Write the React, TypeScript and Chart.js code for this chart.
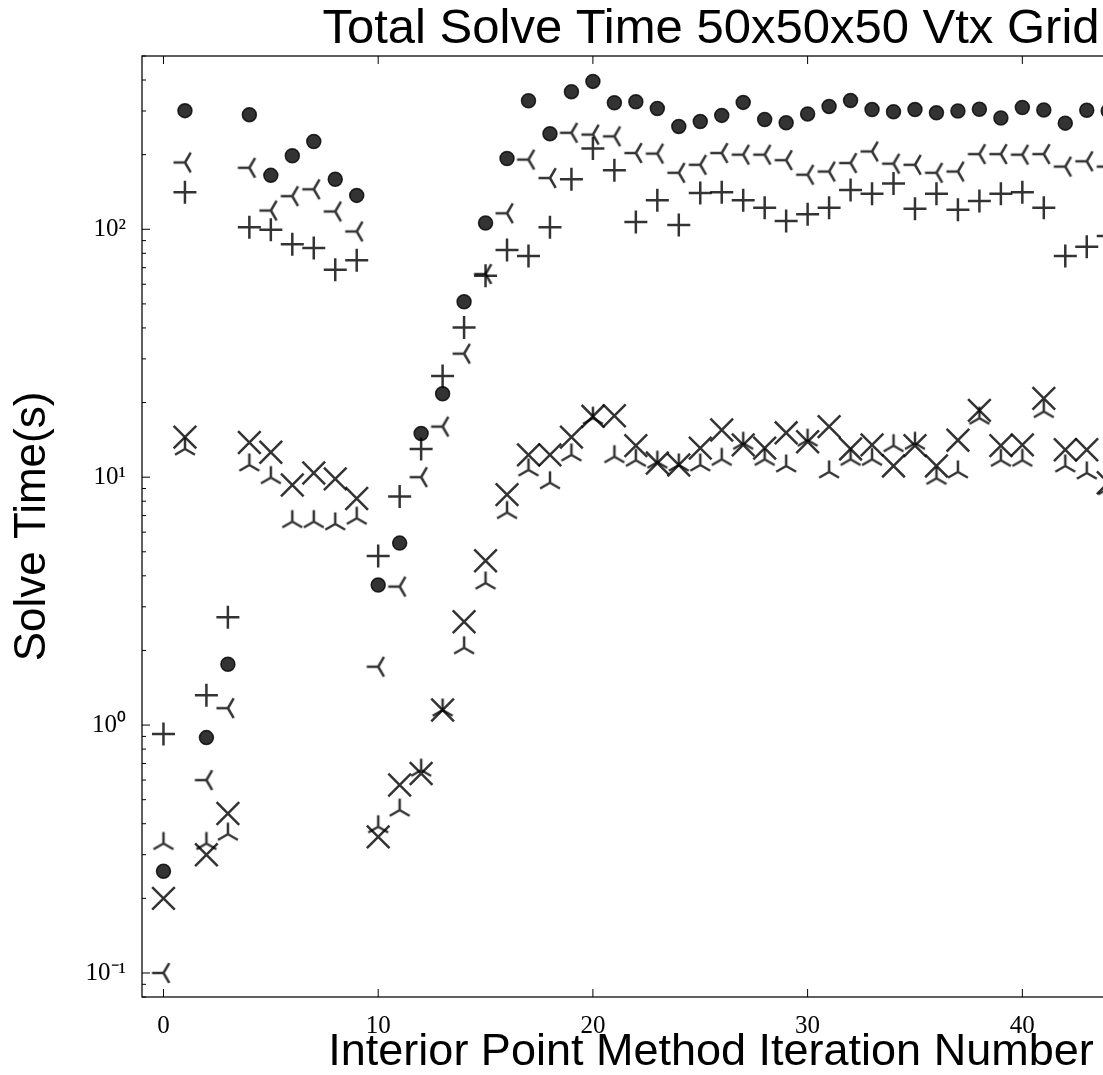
import { useEffect, useRef } from 'react';
import { Chart, registerables } from 'chart.js';

Chart.register(...registerables);

// ---- data ----
const iterations = [
  0, 1, 2, 3, 4, 5, 6, 7, 8, 9, 10, 11, 12, 13, 14, 15, 16, 17, 18, 19, 20, 21,
  22, 23, 24, 25, 26, 27, 28, 29, 30, 31, 32, 33, 34, 35, 36, 37, 38, 39, 40, 41,
  42, 43, 44,
];

const circleTimes = [
  0.257, 301, 0.89, 1.76, 290, 165, 198, 226, 159, 137, 3.67, 5.42, 15.0, 21.7,
  51, 106, 193, 330, 243, 359, 395, 324, 327, 307, 260, 272, 288, 325, 277, 269,
  292, 313, 331, 304, 298, 304, 295, 300, 305, 281, 310, 303, 268, 302, 300,
];

const plusTimes = [
  0.92, 141, 1.32, 2.72, 102, 99.6, 87, 84, 68.7, 75, 4.81, 8.35, 13.0, 25.6,
  40.2, 65, 82.5, 78, 102, 159, 212, 173, 107, 131, 104, 140, 141, 131, 122, 108,
  115, 122, 144, 139, 153, 121, 139, 120, 130, 139, 141, 122, 78, 85, 94,
];

const triLeftTimes = [
  0.1, 186, 0.6, 1.17, 177, 119, 136, 145, 118, 98, 1.72, 3.62, 10.0, 16.0, 31.5,
  66, 116, 191, 161, 245, 241, 237, 203, 202, 169, 182, 203, 200, 200, 190, 166,
  171, 185, 206, 184, 182, 169, 171, 201, 201, 200, 201, 179, 188, 179,
];

const crossTimes = [
  0.2, 14.5, 0.3, 0.44, 13.8, 12.6, 9.3, 10.4, 9.84, 8.2, 0.354, 0.573, 0.638,
  1.15, 2.61, 4.6, 8.5, 12.3, 12.3, 14.5, 17.6, 17.7, 13.4, 11.4, 11.2, 13.1,
  15.5, 13.5, 13.1, 15.1, 13.9, 16.0, 13.0, 13.5, 11.1, 13.4, 11.1, 14.1, 18.6,
  13.4, 13.5, 20.8, 12.9, 12.9, 9.5,
];

const triUpTimes = [
  0.333, 13.0, 0.333, 0.363, 11.2, 9.96, 6.62, 6.62, 6.48, 6.83, 0.389, 0.454,
  0.658, 1.15, 2.05, 3.74, 7.2, 10.7, 9.5, 12.3, 17.3, 12.1, 11.7, 11.5, 11.2,
  11.2, 11.8, 13.7, 11.8, 11.1, 14.1, 10.5, 11.8, 11.8, 13.4, 13.7, 9.9, 10.5,
  17.3, 11.7, 11.7, 18.4, 11.1, 10.4, 9.0,
];

const xTickValues = [0, 10, 20, 30, 40, 50];
const yMajorTicks = [0.1, 1, 10, 100];
const yTickLabels = ['10⁻¹', '10⁰', '10¹', '10²'];
const yMinorMultipliers = [2, 3, 4, 5, 6, 7, 8, 9];
const yDecades = [0.01, 0.1, 1, 10, 100];

const MARK = 'rgba(0,0,0,0.8)';

function toPoints(values: number[]) {
  return iterations.map((it, i) => ({ x: it, y: values[i] }));
}

function makeTri(dir: 'left' | 'up', r: number, lw: number, color: string) {
  const c = document.createElement('canvas');
  const s = 32;
  c.width = s;
  c.height = s;
  const ctx = c.getContext('2d')!;
  ctx.translate(s / 2, s / 2);
  ctx.strokeStyle = color;
  ctx.lineWidth = lw;
  const arms =
    dir === 'left'
      ? [[-1, 0], [0.5, -0.866], [0.5, 0.866]]
      : [[0, -1], [-0.866, 0.5], [0.866, 0.5]];
  ctx.beginPath();
  for (const [dx, dy] of arms) {
    ctx.moveTo(0, 0);
    ctx.lineTo(dx * r, dy * r);
  }
  ctx.stroke();
  return c;
}

const framePlugin = {
  id: 'mplFrame',
  afterDatasetsDraw(chart: any) {
    const { ctx, chartArea: a, scales } = chart;
    const xs = scales.x;
    const ys = scales.y;
    ctx.save();
    ctx.strokeStyle = '#000';
    ctx.lineWidth = 1;
    ctx.beginPath();
    for (const v of xTickValues) {
      const px = xs.getPixelForValue(v);
      ctx.moveTo(px, a.bottom);
      ctx.lineTo(px, a.bottom - 8);
      ctx.moveTo(px, a.top);
      ctx.lineTo(px, a.top + 8);
    }
    const drawY = (v: number, len: number) => {
      if (v < ys.min - 1e-12 || v > ys.max + 1e-9) return;
      const py = ys.getPixelForValue(v);
      ctx.moveTo(a.left, py);
      ctx.lineTo(a.left + len, py);
      ctx.moveTo(a.right, py);
      ctx.lineTo(a.right - len, py);
    };
    for (const d of yDecades) {
      drawY(d, 8);
      for (const k of yMinorMultipliers) drawY(k * d, 4);
    }
    ctx.stroke();
    ctx.lineWidth = 1.25;
    ctx.strokeRect(a.left, a.top, a.right - a.left, a.bottom - a.top);
    ctx.restore();
  },
};

export default function App() {
  const ref = useRef<HTMLCanvasElement | null>(null);

  useEffect(() => {
    if (!ref.current) return;
    const triLeft = makeTri('left', 11.5, 2.5, MARK);
    const triUp = makeTri('up', 11.5, 2.5, MARK);

    const chart = new Chart(ref.current, {
      type: 'scatter',
      data: {
        datasets: [
          {
            label: 'circle',
            data: toPoints(circleTimes),
            pointStyle: 'circle',
            pointRadius: 7,
            backgroundColor: MARK,
            borderColor: MARK,
            borderWidth: 1.5,
          },
          {
            label: 'plus',
            data: toPoints(plusTimes),
            pointStyle: 'cross',
            pointRadius: 11.5,
            backgroundColor: 'rgba(0,0,0,0)',
            borderColor: MARK,
            borderWidth: 2.5,
          },
          {
            label: 'triLeft',
            data: toPoints(triLeftTimes),
            pointStyle: triLeft,
            pointRadius: 11,
            borderColor: MARK,
          },
          {
            label: 'cross',
            data: toPoints(crossTimes),
            pointStyle: 'crossRot',
            pointRadius: 16,
            backgroundColor: 'rgba(0,0,0,0)',
            borderColor: MARK,
            borderWidth: 2.5,
          },
          {
            label: 'triUp',
            data: toPoints(triUpTimes),
            pointStyle: triUp,
            pointRadius: 11,
            borderColor: MARK,
          },
        ] as any,
      },
      options: {
        animation: false,
        responsive: false,
        devicePixelRatio: 1,
        events: [],
        layout: { padding: { left: 0, right: 20, top: 0, bottom: 0 } },
        plugins: {
          legend: { display: false },
          tooltip: { enabled: false },
          title: {
            display: true,
            text: 'Total Solve Time 50x50x50 Vtx Grid',
            fullSize: false,
            color: '#000',
            font: { family: 'Liberation Sans', size: 49, weight: 'normal', lineHeight: 1 },
            padding: { top: 5, bottom: 2 },
          },
        },
        scales: {
          x: {
            type: 'linear',
            min: -1,
            max: 52,
            grid: { display: false },
            border: { display: false },
            afterBuildTicks: (scale: any) => {
              scale.ticks = xTickValues.map((v) => ({ value: v }));
            },
            afterFit: (scale: any) => {
              scale.height = 78;
            },
            ticks: {
              autoSkip: false,
              maxRotation: 0,
              padding: 6,
              color: '#000',
              font: { family: 'Liberation Serif', size: 25, lineHeight: 1.2 },
              callback: (v: any) => String(v),
            },
            title: {
              display: true,
              text: 'Interior Point Method Iteration Number',
              color: '#000',
              font: { family: 'Liberation Sans', size: 45, lineHeight: 1 },
              padding: { top: 0, bottom: 0 },
            },
          },
          y: {
            type: 'logarithmic',
            min: 0.08,
            max: 500,
            grid: { display: false },
            border: { display: false },
            afterBuildTicks: (scale: any) => {
              scale.ticks = yMajorTicks.map((v) => ({ value: v, major: true }));
            },
            afterFit: (scale: any) => {
              scale.width = 142;
            },
            ticks: {
              autoSkip: false,
              padding: 8,
              color: '#000',
              font: { family: 'Liberation Serif', size: 25, lineHeight: 1.2 },
              callback: (v: any) => {
                const i = yMajorTicks.findIndex((m) => Math.abs(m - Number(v)) < 1e-9);
                return i >= 0 ? yTickLabels[i] : '';
              },
            },
            title: {
              display: true,
              text: 'Solve Time(s)',
              color: '#000',
              font: { family: 'Liberation Sans', size: 44, lineHeight: 1 },
              padding: { top: 11, bottom: 0 },
            },
          },
        },
      } as any,
      plugins: [framePlugin],
    });

    return () => chart.destroy();
  }, []);

  return (
    <div
      style={{
        position: 'fixed',
        left: 0,
        top: 0,
        width: 1103,
        height: 1075,
        overflow: 'hidden',
        background: '#fff',
      }}
    >
      <canvas ref={ref} width={1300} height={1075} style={{ display: 'block' }} />
    </div>
  );
}
